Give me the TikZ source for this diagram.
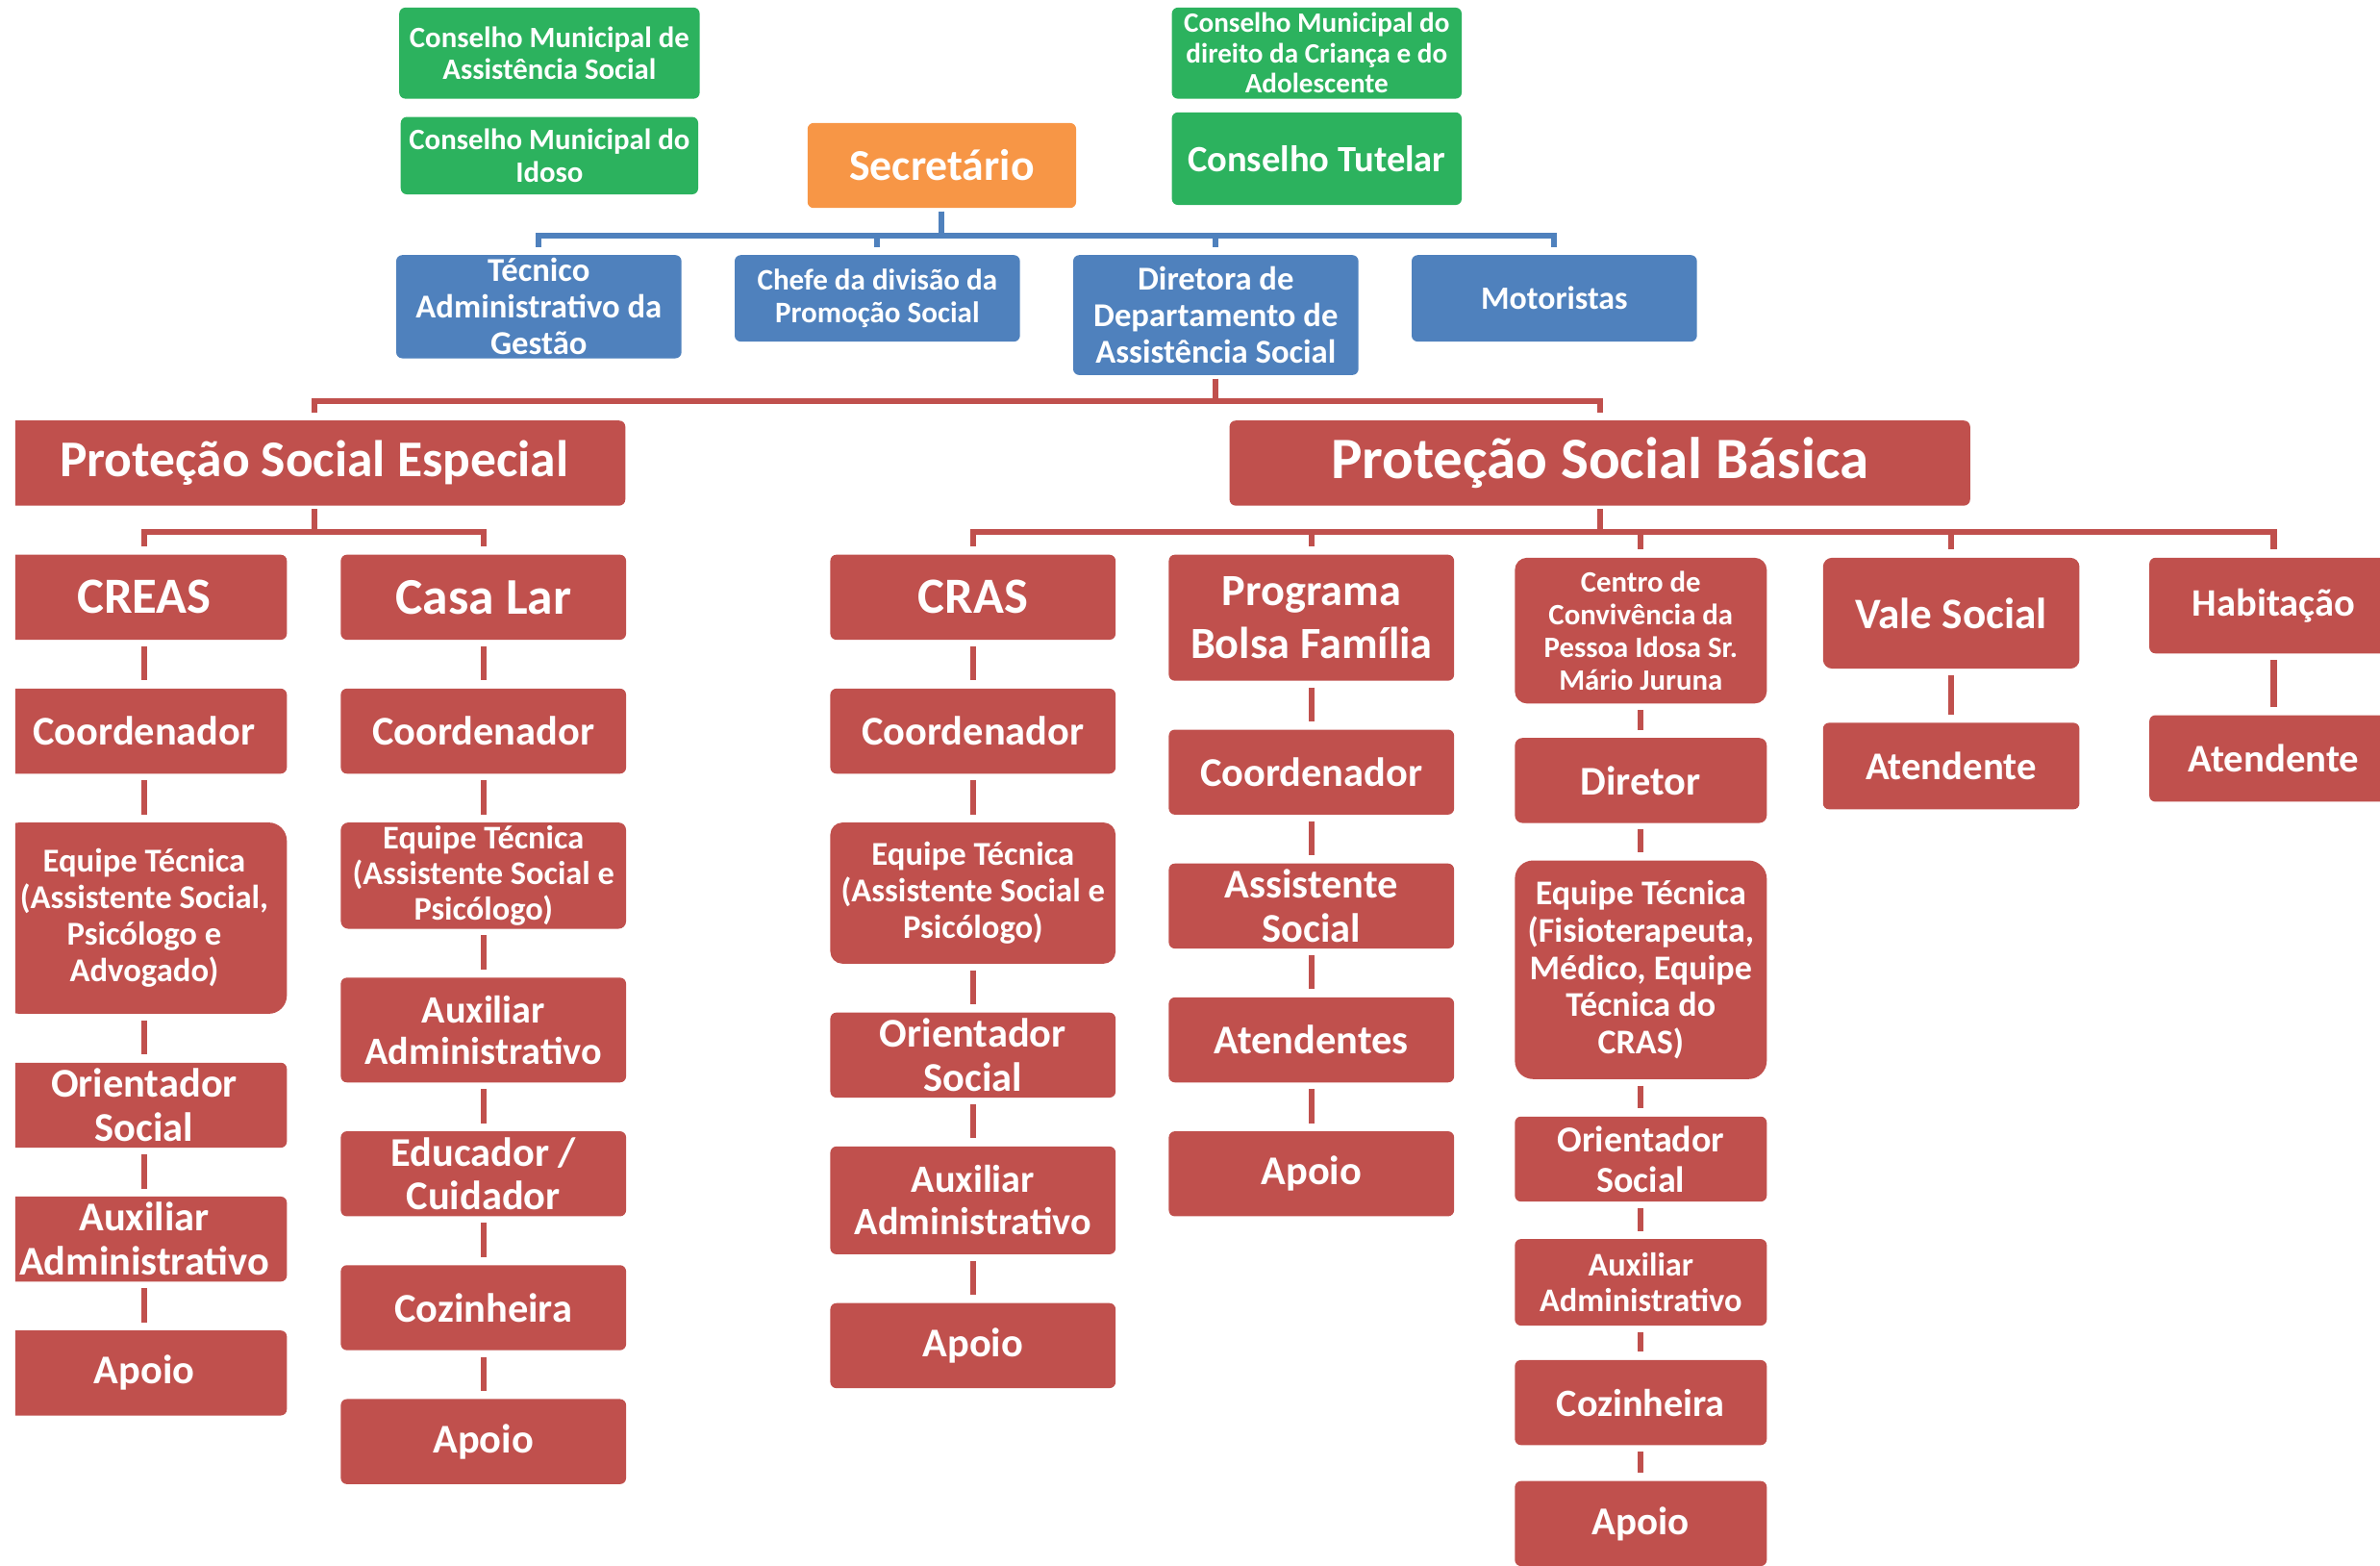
\documentclass[tikz,border=0pt]{standalone}
\usepackage{fontspec}
\setmainfont{Carlito}
\usetikzlibrary{positioning}
\definecolor{cgreen}{RGB}{44,178,94}
\definecolor{corange}{RGB}{247,150,70}
\definecolor{cblue}{RGB}{79,129,189}
\definecolor{cred}{RGB}{192,80,77}
\newcommand{\setfs}[2]{\fontsize{#1}{#2}\selectfont}
\begin{document}
\begin{tikzpicture}[
    x=0.02cm, y=-0.02cm,
    node distance=0.63cm,
    box/.style={rectangle, rounded corners=0.08cm, text=white, align=center, inner sep=1pt},
    gbox/.style={box, fill=cgreen},
    obox/.style={box, fill=corange},
    bbox/.style={box, fill=cblue, minimum width=3.76cm},
    rbox/.style={box, fill=cred, minimum width=3.76cm, minimum height=1.12cm, font=\bfseries\setfs{15.3}{16.5}},
    cbox/.style={rbox, minimum width=3.32cm},
    blink/.style={draw=cblue, line width=2.2pt, shorten <=0.04cm, shorten >=0.1cm},
    rlink/.style={draw=cred, line width=2.2pt, shorten <=0.04cm, shorten >=0.1cm},
    vlink/.style={draw=cred, line width=2.2pt, shorten <=0.08cm, shorten >=0.1cm}
  ]

  \useasboundingbox (0,0) rectangle (1568,1031);
  \clip (10,0) rectangle (1568,1031);

  \node[gbox, minimum width=3.96cm, minimum height=1.2cm, font=\bfseries\setfs{11.1}{12}] (cmas) at (362,35) {Conselho Municipal de\\Assistência Social};
  \node[gbox, minimum width=3.92cm, minimum height=1.02cm, font=\bfseries\setfs{11.1}{12}] (cmi) at (362,102.5) {Conselho Municipal do\\Idoso};
  \node[gbox, minimum width=3.82cm, minimum height=1.2cm, inner sep=0pt, font=\bfseries\setfs{10.5}{11.4}] (cmdca) at (867.5,35) {Conselho Municipal do\\direito da Criança e do\\Adolescente};
  \node[gbox, minimum width=3.82cm, minimum height=1.22cm, font=\bfseries\setfs{13.9}{15}] (tutelar) at (867.5,104.5) {Conselho Tutelar};
  \node[obox, minimum width=3.54cm, minimum height=1.12cm, font=\bfseries\setfs{16.5}{18}] (sec) at (620.5,109) {Secretário};

  \node[bbox, minimum height=1.36cm, inner sep=0pt, font=\bfseries\setfs{12.5}{13.7}] (tec) at (355,202) {Técnico\\Administrativo da\\Gestão};
  \node[bbox, minimum height=1.14cm, font=\bfseries\setfs{11.2}{12}] (chefe) at (578,196.5) {Chefe da divisão da\\Promoção Social};
  \node[bbox, minimum height=1.58cm, font=\bfseries\setfs{12.5}{13.7}] (dir) at (801,207.5) {Diretora de\\Departamento de\\Assistência Social};
  \node[bbox, minimum height=1.14cm, font=\bfseries\setfs{12.2}{13}] (mot) at (1024,196.5) {Motoristas};

  \node[rbox, minimum width=8.2cm, font=\bfseries\setfs{19.3}{21}] (pse) at (207,305) {Proteção Social Especial};
  \node[rbox, minimum width=9.76cm, font=\bfseries\setfs{22}{24}] (psb) at (1054,305) {Proteção Social Básica};

  \node[rbox, anchor=north, font=\bfseries\setfs{19}{21}] (creas) at (95,365) {CREAS};
  \node[rbox, below=of creas] (creasco) {Coordenador};
  \node[rbox, below=of creasco, minimum height=2.52cm, rounded corners=0.24cm, font=\bfseries\setfs{12.5}{13.7}] (creaseq) {Equipe Técnica\\(Assistente Social,\\Psicólogo e\\Advogado)};
  \node[rbox, below=of creaseq] (creasor) {Orientador\\Social};
  \node[rbox, below=of creasor] (creasaux) {Auxiliar\\Administrativo};
  \node[rbox, below=of creasaux] (creasap) {Apoio};

  \node[rbox, anchor=north, font=\bfseries\setfs{19.3}{21}] (casalar) at (318.5,365) {Casa Lar};
  \node[rbox, below=of casalar] (larco) {Coordenador};
  \node[rbox, below=of larco, minimum height=1.4cm, inner sep=0pt, rounded corners=0.1cm, font=\bfseries\setfs{12.4}{13.5}] (lareq) {Equipe Técnica\\(Assistente Social e\\Psicólogo)};
  \node[rbox, below=of lareq, minimum height=1.38cm, font=\bfseries\setfs{14.5}{15.5}] (laraux) {Auxiliar\\Administrativo};
  \node[rbox, below=of laraux] (laredu) {Educador /\\Cuidador};
  \node[rbox, below=of laredu] (larcoz) {Cozinheira};
  \node[rbox, below=of larcoz] (larap) {Apoio};

  \node[rbox, anchor=north, font=\bfseries\setfs{19}{21}] (cras) at (641,365) {CRAS};
  \node[rbox, below=of cras] (crasco) {Coordenador};
  \node[rbox, below=of crasco, minimum height=1.86cm, rounded corners=0.16cm, font=\bfseries\setfs{12.5}{13.7}] (craseq) {Equipe Técnica\\(Assistente Social e\\Psicólogo)};
  \node[rbox, below=of craseq] (crasor) {Orientador\\Social};
  \node[rbox, below=of crasor, minimum height=1.42cm, font=\bfseries\setfs{14.5}{15.9}] (crasaux) {Auxiliar\\Administrativo};
  \node[rbox, below=of crasaux] (crasap) {Apoio};

  \node[rbox, anchor=north, minimum height=1.66cm, font=\bfseries\setfs{16.7}{19.9}] (pbf) at (864,365) {Programa\\Bolsa Família};
  \node[rbox, below=of pbf] (pbfco) {Coordenador};
  \node[rbox, below=of pbfco] (pbfas) {Assistente\\Social};
  \node[rbox, below=of pbfas] (pbfat) {Atendentes};
  \node[rbox, below=of pbfat] (pbfap) {Apoio};

  \node[cbox, anchor=north, minimum height=1.92cm, rounded corners=0.16cm, font=\bfseries\setfs{11.1}{12.3}] (cc) at (1081,367) {Centro de\\Convivência da\\Pessoa Idosa Sr.\\Mário Juruna};
  \node[cbox, below=0.44cm of cc, rounded corners=0.1cm] (ccdir) {Diretor};
  \node[cbox, below=0.48cm of ccdir, minimum height=2.88cm, rounded corners=0.24cm, font=\bfseries\setfs{13}{13.9}] (cceq) {Equipe Técnica\\(Fisioterapeuta,\\Médico, Equipe\\Técnica do\\CRAS)};
  \node[cbox, below=0.48cm of cceq, font=\bfseries\setfs{13.7}{15.2}] (ccor) {Orientador\\Social};
  \node[cbox, below=0.48cm of ccor, minimum height=1.14cm, font=\bfseries\setfs{12.4}{13.6}] (ccaux) {Auxiliar\\Administrativo};
  \node[cbox, below=0.44cm of ccaux, font=\bfseries\setfs{14.5}{15.5}] (cccoz) {Cozinheira};
  \node[cbox, below=0.46cm of cccoz, font=\bfseries\setfs{14.8}{15.8}] (ccap) {Apoio};

  \node[rbox, anchor=north, minimum width=3.38cm, minimum height=1.46cm, rounded corners=0.12cm, font=\bfseries\setfs{16.3}{17.5}] (vale) at (1285.5,367) {Vale Social};
  \node[rbox, below=0.7cm of vale, minimum width=3.38cm, minimum height=1.14cm, font=\bfseries\setfs{14.7}{15.7}] (valeat) {Atendente};

  \node[rbox, anchor=north, minimum width=3.28cm, minimum height=1.26cm, font=\bfseries\setfs{14.6}{15.6}] (hab) at (1498,367) {Habitação};
  \node[rbox, below=0.8cm of hab, minimum width=3.28cm, minimum height=1.14cm, font=\bfseries\setfs{14.7}{15.7}] (habat) {Atendente};

  \foreach \c in {tec,chefe,dir,mot}
    \draw[blink] (sec.south) -- ++(0,18) -| (\c.north);
  \foreach \c in {pse,psb}
    \draw[rlink] (dir.south) -- ++(0,17) -| (\c.north);
  \foreach \c in {creas,casalar}
    \draw[rlink] (pse.south) -- ++(0,17) -| (\c.north);
  \foreach \c in {cras,pbf,cc,vale,hab}
    \draw[rlink] (psb.south) -- ++(0,17) -| (\c.north);

  \foreach \a/\b in {creas/creasco, creasco/creaseq, creaseq/creasor, creasor/creasaux, creasaux/creasap,
                     casalar/larco, larco/lareq, lareq/laraux, laraux/laredu, laredu/larcoz, larcoz/larap,
                     cras/crasco, crasco/craseq, craseq/crasor, crasor/crasaux, crasaux/crasap,
                     pbf/pbfco, pbfco/pbfas, pbfas/pbfat, pbfat/pbfap,
                     cc/ccdir, ccdir/cceq, cceq/ccor, ccor/ccaux, ccaux/cccoz, cccoz/ccap,
                     vale/valeat, hab/habat}
    \draw[vlink] (\a) -- (\b);

\end{tikzpicture}
\end{document}
